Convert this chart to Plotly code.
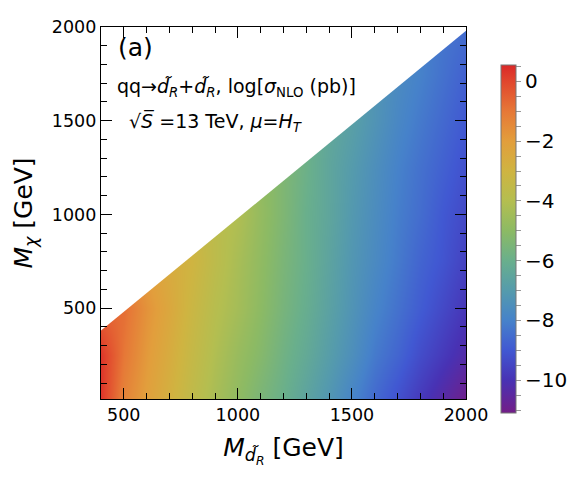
import numpy as np
import plotly.graph_objects as go

# ---- data ----
m_dR = [400, 500, 600, 700, 800, 900, 1000, 1100, 1200, 1300, 1400, 1500, 1600, 1700, 1800, 1900, 2000]
m_chi = [15, 250, 500, 750, 1000, 1250, 1500, 1750, 2000]
N = None
row_15   = [0.3, -1.3, -2.1, -2.8, -3.6, -4.3, -4.9, -5.5, -6.0, -6.6, -7.2, -7.9, -8.6, -9.2, -9.8, -10.4, -11.0]
row_250  = [0.3, -1.0, -1.9, -2.6, -3.4, -4.1, -4.7, -5.2, -5.8, -6.3, -6.9, -7.5, -8.2, -8.7, -9.3, -9.8, -10.3]
row_500  = [N, -0.8, -1.7, -2.4, -3.2, -3.9, -4.4, -5.0, -5.6, -6.1, -6.7, -7.3, -7.9, -8.4, -8.9, -9.4, -9.9]
row_750  = [N, N, N, N, -3.0, -3.7, -4.3, -4.9, -5.5, -6.0, -6.6, -7.2, -7.7, -8.2, -8.7, -9.1, -9.6]
row_1000 = [N, N, N, N, N, N, -4.1, -4.8, -5.4, -6.0, -6.5, -7.1, -7.6, -8.1, -8.5, -9.0, -9.4]
row_1250 = [N, N, N, N, N, N, N, N, N, -5.9, -6.5, -7.0, -7.5, -8.0, -8.4, -8.8, -9.2]
row_1500 = [N, N, N, N, N, N, N, N, N, N, N, -6.8, -7.3, -7.8, -8.2, -8.6, -9.0]
row_1750 = [N, N, N, N, N, N, N, N, N, N, N, N, N, N, -8.0, -8.4, -8.8]
row_2000 = [N, N, N, N, N, N, N, N, N, N, N, N, N, N, N, N, -8.5]
z_rows = [row_15, row_250, row_500, row_750, row_1000, row_1250, row_1500, row_1750, row_2000]

cbar_major = [0, -2, -4, -6, -8, -10]
cbar_minor_step = 0.5
z_min, z_max = -11.1, 0.55
mass_gap = 20  # kinematic edge: M_chi < M_dR - gap

# colour map (value, colour) sampled from the reference colour bar
cmap_vals = [-11.1, -10, -9, -8, -7, -6, -5, -4, -3, -2, -1, 0, 0.55]
cmap_cols = ["rgb(115,30,135)", "rgb(72,50,180)", "rgb(65,88,210)", "rgb(70,130,202)",
             "rgb(85,155,172)", "rgb(105,175,140)", "rgb(140,186,100)", "rgb(180,190,80)",
             "rgb(207,180,65)", "rgb(226,158,60)", "rgb(230,120,55)", "rgb(225,70,45)",
             "rgb(218,40,40)"]

colorscale = [[(v - z_min) / (z_max - z_min), c] for v, c in zip(cmap_vals, cmap_cols)]
z = np.array([[np.nan if v is None else v for v in r] for r in z_rows])

# colour-bar ticks: labelled majors plus unlabelled minors
cb_tickvals, cb_ticktext = [], []
v = 0.5
while v >= z_min:
    cb_tickvals.append(v)
    cb_ticktext.append(str(int(v)).replace("-", "\u2212") if (v in cbar_major) else "")
    v -= cbar_minor_step

FONT = "DejaVu Sans"

fig = go.Figure()
fig.add_trace(go.Heatmap(
    x=m_dR, y=m_chi, z=z, zsmooth="best", connectgaps=True,
    colorscale=colorscale, zmin=z_min, zmax=z_max,
    colorbar=dict(
        x=(509 - 101) / 372, xanchor="left", xpad=0,
        y=(399 - 239) / 372, yanchor="middle", ypad=0,
        len=348, lenmode="pixels", thickness=15,
        outlinewidth=1, outlinecolor="#777",
        tickmode="array", tickvals=cb_tickvals, ticktext=cb_ticktext,
        ticks="outside", ticklen=5, tickcolor="#999", tickwidth=1,
        tickfont=dict(family=FONT, size=20, color="black"),
    ),
    hoverinfo="skip",
))

# white mask above the kinematic edge
x0, x1 = m_dR[0], m_dR[-1]
y_top = m_chi[-1]
fig.add_trace(go.Scatter(
    x=[x0, x0, x1, x1, x0], y=[x0 - mass_gap, y_top + 50, y_top + 50, x1 - mass_gap, x0 - mass_gap],
    fill="toself", fillcolor="white", mode="lines", line=dict(width=0, color="white"),
    showlegend=False, hoverinfo="skip",
))

axis_common = dict(
    showline=True, linecolor="black", linewidth=1.3, mirror="ticks",
    ticks="inside", ticklen=11, tickwidth=1.2, tickcolor="black",
    showgrid=False, zeroline=False,
    tickfont=dict(family=FONT, size=17.5, color="black"),
    minor=dict(dtick=100, ticks="inside", ticklen=6, tickwidth=1, tickcolor="black", showgrid=False),
    dtick=500,
)

fig.update_layout(
    width=581, height=480,
    margin=dict(l=101, r=108, t=27, b=81),
    paper_bgcolor="white", plot_bgcolor="white",
    showlegend=False,
    xaxis=dict(range=[400, 2000], tick0=0,
               title=dict(text="<i>M</i><sub><i>d̃</i><sub><i>R</i></sub></sub> [GeV]",
                          font=dict(family=FONT, size=25, color="black"), standoff=14),
               **axis_common),
    yaxis=dict(range=[15, 2000], tick0=0,
               title=dict(text="<i>M</i><sub><i>χ</i></sub> [GeV]",
                          font=dict(family=FONT, size=25, color="black"), standoff=12),
               **axis_common),
    annotations=[
        dict(text="(a)", x=(116 - 101) / 372, y=(399 - 48) / 372, xref="paper", yref="paper",
             xanchor="left", yanchor="middle", showarrow=False,
             font=dict(family=FONT, size=25, color="black")),
        dict(text="qq→<i>d̃</i><sub><i>R</i></sub>+<i>d̃</i><sub><i>R</i></sub>, log[<i>σ</i><sub>NLO</sub> (pb)]",
             x=(115 - 101) / 372, y=(399 - 88) / 372, xref="paper", yref="paper",
             xanchor="left", yanchor="middle", showarrow=False,
             font=dict(family=FONT, size=19, color="black")),
        dict(text="√<i>S̅</i> =13 TeV, <i>μ</i>=<i>H</i><sub><i>T</i></sub>",
             x=(128 - 101) / 372, y=(399 - 122) / 372, xref="paper", yref="paper",
             xanchor="left", yanchor="middle", showarrow=False,
             font=dict(family=FONT, size=19, color="black")),
    ],
)

fig.write_html("out.html")
